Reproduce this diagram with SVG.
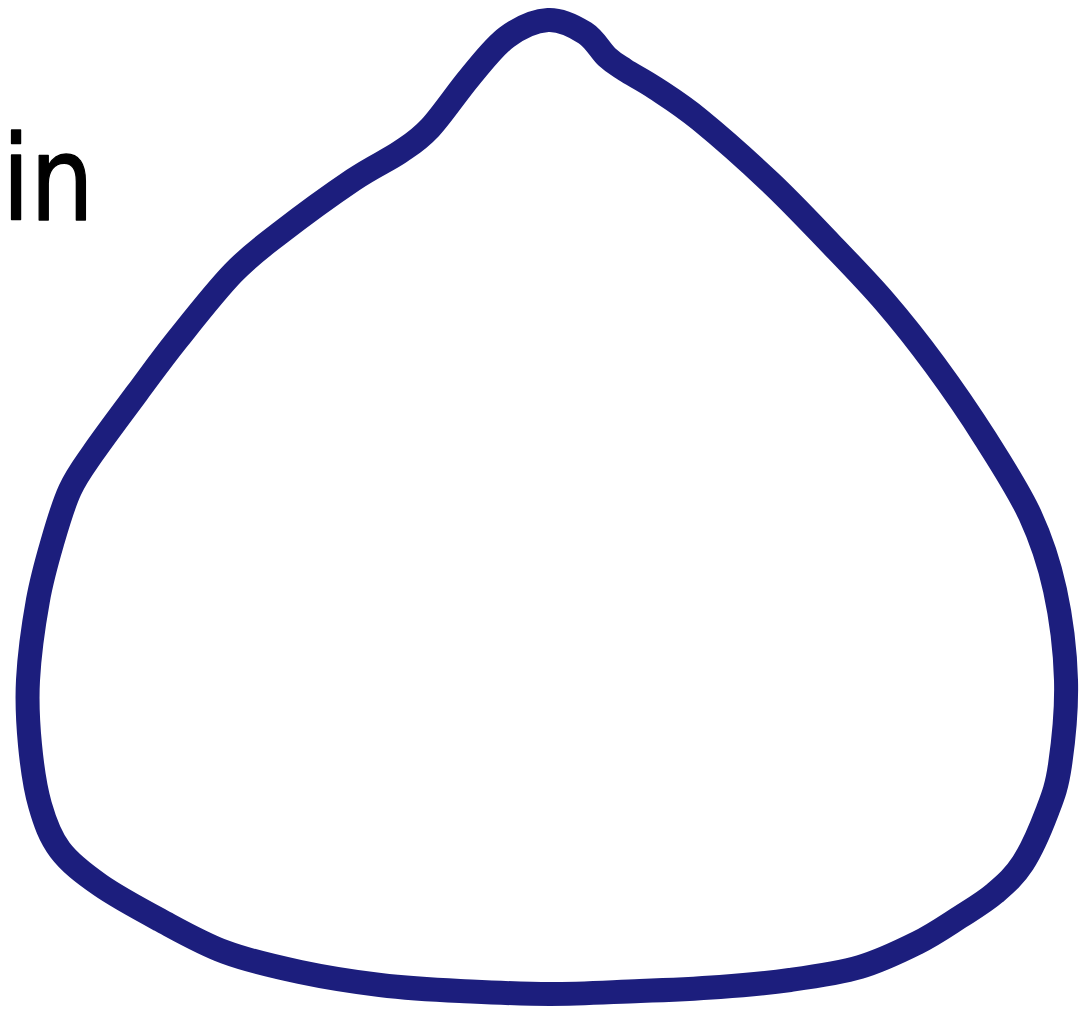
<svg xmlns="http://www.w3.org/2000/svg" width="1082" height="1013" viewBox="0 0 1082 1013">
<style>
.outline{fill:none;stroke:#1c1e7d;stroke-width:24;stroke-linejoin:round;stroke-linecap:round}
.lbl{font-family:"DejaVu Sans",sans-serif;font-size:118px;fill:#000;stroke:#000;stroke-width:1.5;stroke-linejoin:round}
</style>
<rect width="1082" height="1013" fill="#fff"/>
<g id="shape">
<path class="outline" d="M548,20 C561,19.3 575.2,26.8 585,33 C594.8,39.2 600.3,50.8 607,57 C613.7,63.2 617,64.8 625,70 C633,75.2 642.5,79.7 655,88 C667.5,96.3 680.8,104.3 700,120 C719.2,135.7 748.3,161.5 770,182 C791.7,202.5 810.8,223 830,243 C849.2,263 867.5,281.7 885,302 C902.5,322.3 918.3,342.3 935,365 C951.7,387.7 969.2,413 985,438 C1000.8,463 1018.3,489.7 1030,515 C1041.7,540.3 1049,562.5 1055,590 C1061,617.5 1065.2,650.8 1066,680 C1066.8,709.2 1063.2,743 1060,765 C1056.8,787 1053.2,795.7 1047,812 C1040.8,828.3 1031.7,849.5 1023,863 C1014.3,876.5 1005.5,884 995,893 C984.5,902 973,908.7 960,917 C947,925.3 933.7,934.7 917,943 C900.3,951.3 881.2,960.8 860,967 C838.8,973.2 813.3,976.7 790,980 C766.7,983.3 745,985.2 720,987 C695,988.8 668.3,990 640,991 C611.7,992 580,994 550,994 C520,994 488.3,992.3 460,991 C431.7,989.7 406.7,988.2 380,985 C353.3,981.8 325.8,977.5 300,972 C274.2,966.5 248.3,960.7 225,952 C201.7,943.3 180.8,931.2 160,920 C139.2,908.8 116.7,896.7 100,885 C83.3,873.3 70,863.3 60,850 C50,836.7 45,822.5 40,805 C35,787.5 32,765.8 30,745 C28,724.2 26.7,704.2 28,680 C29.3,655.8 33.8,623.3 38,600 C42.2,576.7 47.7,558.3 53,540 C58.3,521.7 63.3,504.5 70,490 C76.7,475.5 81.8,469.2 93,453 C104.2,436.8 123,411.8 137,393 C151,374.2 161,360 177,340 C193,320 215.8,290.8 233,273 C250.2,255.2 260,248.5 280,233 C300,217.5 333,193.5 353,180 C373,166.5 387.2,160.7 400,152 C412.8,143.3 418.3,140.5 430,128 C441.7,115.5 457.2,92.2 470,77 C482.8,61.8 494,46.5 507,37 C520,27.5 535,20.7 548,20 Z"/>
</g>
<g id="label">
<text class="lbl" x="2" y="220" textLength="92" lengthAdjust="spacingAndGlyphs">in</text>
</g>
<g id="connectors"/>
</svg>
